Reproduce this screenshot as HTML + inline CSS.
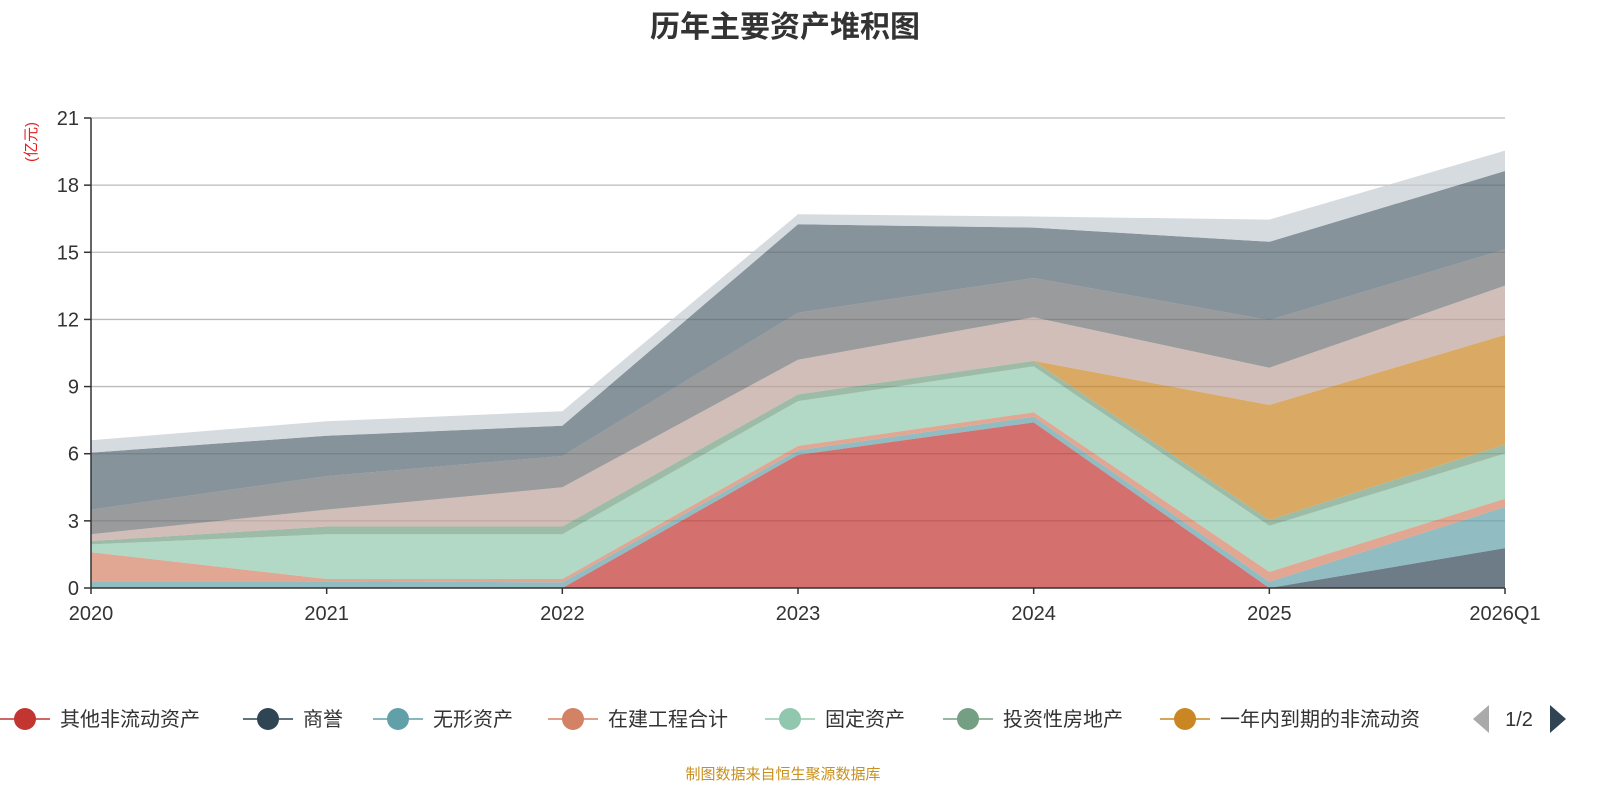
<!DOCTYPE html>
<html><head><meta charset="utf-8"><style>
body{margin:0;background:#fff;font-family:"Liberation Sans","Noto Sans CJK SC",sans-serif;}
svg text{font-family:"Liberation Sans","Noto Sans CJK SC",sans-serif;}
</style></head><body>
<svg id="chart" width="1600" height="800" xmlns="http://www.w3.org/2000/svg">
<text x="785" y="37" text-anchor="middle" font-size="30" font-weight="bold" fill="#333">历年主要资产堆积图</text>
<text transform="translate(36,142) rotate(-90)" text-anchor="middle" font-size="15" fill="#e02020">(亿元)</text>
<g id="grid"></g><g id="areas"></g><g id="axes"></g><g id="legend"></g>
<text x="783" y="779" text-anchor="middle" font-size="15" fill="#c8901c">制图数据来自恒生聚源数据库</text>
</svg>
<script>
const categories=["2020","2021","2022","2023","2024","2025","2026Q1"];
const seriesNames=["其他非流动资产","商誉","无形资产","在建工程合计","固定资产","投资性房地产","一年内到期的非流动资产","长期待摊费用","长期股权投资","其他资产A","其他资产B"];
const s0=[0,0,0,5.95,7.4,0,0];
const s1=[0,0,0,0,0,0,1.78];
const s2=[0.3,0.3,0.25,0.2,0.25,0.28,1.84];
const s3=[1.3,0.1,0.15,0.2,0.2,0.44,0.37];
const s4=[0.35,2.0,2.0,2.0,2.05,2.06,2.02];
const s5=[0.15,0.35,0.35,0.3,0.25,0.26,0.4];
const s6=[0,0,0,0,0,5.14,4.9];
const s7=[0.3,0.75,1.75,1.55,1.95,1.66,2.2];
const s8=[1.1,1.5,1.4,2.1,1.75,2.13,1.62];
const s9=[2.55,1.8,1.35,3.95,2.25,3.5,3.5];
const s10=[0.55,0.65,0.65,0.45,0.5,0.99,0.91];
const series=[s0,s1,s2,s3,s4,s5,s6,s7,s8,s9,s10];
const yTicks=[0,3,6,9,12,15,18,21];
const colors=["#c23531","#2f4554","#61a0a8","#d48265","#91c7ae","#749f83","#ca8622","#bda29a","#6e7074","#546570","#c4ccd3"];
const NS="http://www.w3.org/2000/svg";
const X0=91,X1=1505,Y0=588,Y1=118;
const xs=i=>X0+(X1-X0)*i/(categories.length-1);
const ys=v=>Y0-(Y0-Y1)*v/21;
function mk(t,a,p){const e=document.createElementNS(NS,t);for(const k in a)e.setAttribute(k,a[k]);p.appendChild(e);return e;}
const grid=document.getElementById('grid'),areas=document.getElementById('areas'),axes=document.getElementById('axes'),leg=document.getElementById('legend');
yTicks.forEach(t=>{
 if(t>0){const l=mk('line',{x1:X0,x2:X1,y1:ys(t),y2:ys(t),stroke:'#bbb','stroke-width':1.3},grid);
 
 }
 const tk=mk('line',{x1:X0-7,x2:X0,y1:ys(t),y2:ys(t),stroke:'#333','stroke-width':1.5},axes);
 
 
 const tx=mk('text',{x:X0-12,y:ys(t)+7,'text-anchor':'end','font-size':20,fill:'#333'},axes);tx.textContent=t;
 
 
});
let base=categories.map(()=>0);
series.forEach((s,k)=>{
 const top=base.map((b,i)=>b+s[i]);
 let d='';top.forEach((v,i)=>d+=(i?'L':'M')+xs(i)+','+ys(v));
 for(let i=categories.length-1;i>=0;i--)d+='L'+xs(i)+','+ys(base[i]);
 const p=mk('path',{d:d+'Z',fill:colors[k],'fill-opacity':0.7},areas);
 
 
 base=top;
});
mk('line',{x1:X0,x2:X0,y1:Y1,y2:Y0,stroke:'#333','stroke-width':1.5},axes);
mk('line',{x1:X0,x2:X1,y1:Y0,y2:Y0,stroke:'#333','stroke-width':1.5},axes);
categories.forEach((c,i)=>{
 const tk=mk('line',{x1:xs(i),x2:xs(i),y1:Y0,y2:Y0+6,stroke:'#333','stroke-width':1.5},axes);
 
 
 const t=mk('text',{x:xs(i),y:620,'text-anchor':'middle','font-size':20,fill:'#333'},axes);t.textContent=c;
 
 
});
const legX=[25,268,398,573,790,968,1185];
const legLabels=["其他非流动资产","商誉","无形资产","在建工程合计","固定资产","投资性房地产","一年内到期的非流动资"];
legLabels.forEach((n,k)=>{
 const g=mk('g',{},leg);
 
 
 mk('line',{x1:legX[k]-25,x2:legX[k]+25,y1:719,y2:719,stroke:colors[k],'stroke-width':1.5},g);
 mk('circle',{cx:legX[k],cy:719,r:11,fill:colors[k]},g);
 const t=mk('text',{x:legX[k]+35,y:726,'font-size':20,fill:'#333'},g);t.textContent=n;
});
const pl=mk('path',{d:'M1473,719L1489,705L1489,733Z',fill:'#aaa'},leg);


const pt=mk('text',{x:1519,y:726,'text-anchor':'middle','font-size':20,fill:'#333'},leg);pt.textContent='1/2';


const pn=mk('path',{d:'M1566,719L1550,705L1550,733Z',fill:'#2f4554'},leg);


</script>
</body></html>
